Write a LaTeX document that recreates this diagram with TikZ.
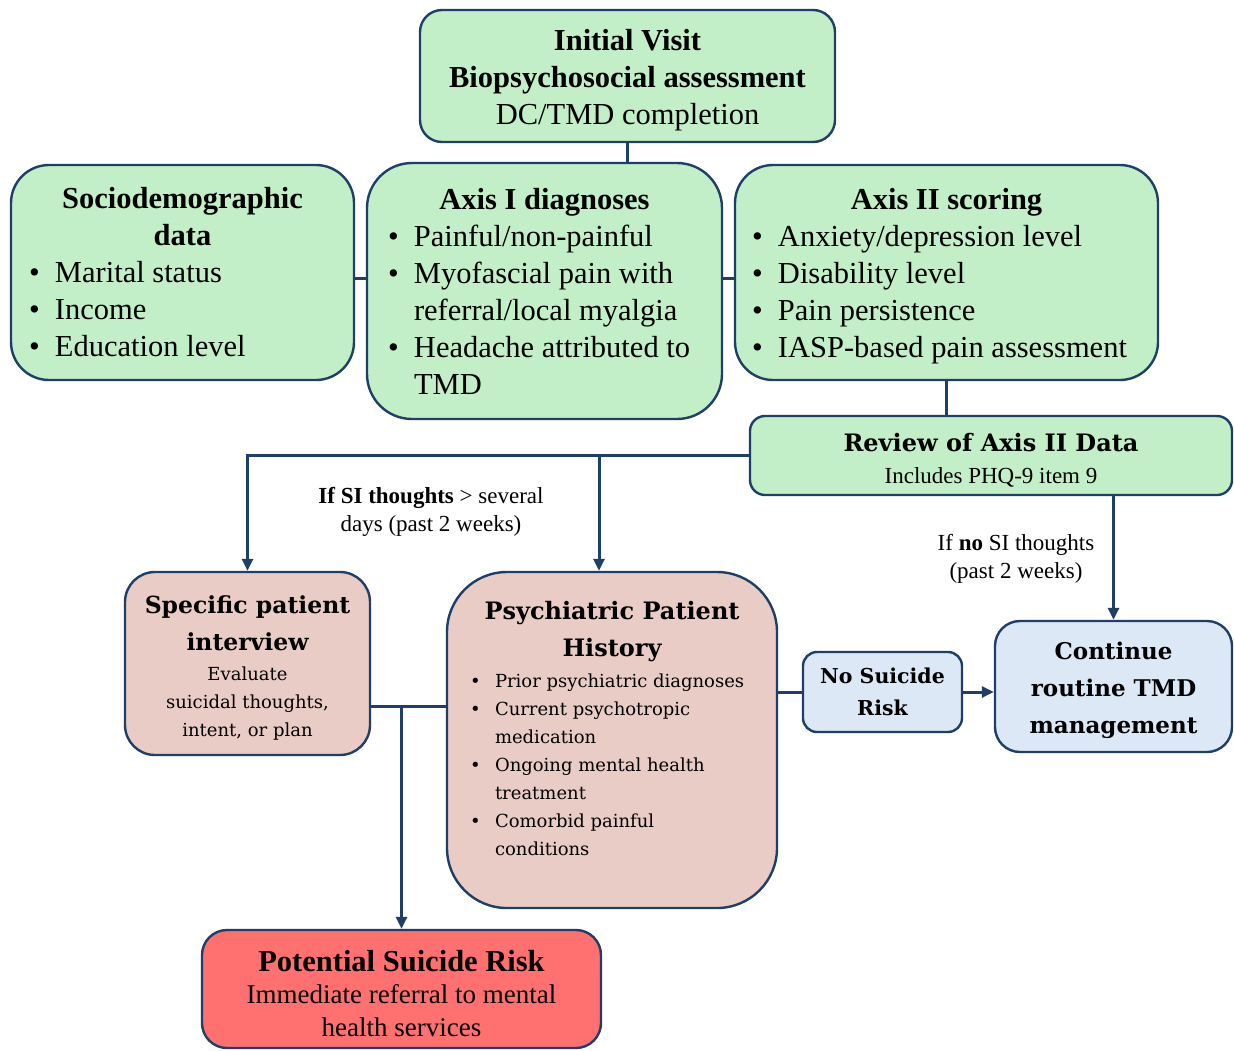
\documentclass[tikz,border=0pt]{standalone}
\usepackage{fontspec}
\setmainfont{Liberation Serif}
\newfontfamily\wideserif{DejaVu Serif}
\usetikzlibrary{arrows.meta}
\definecolor{navy}{HTML}{1F3F66}
\definecolor{mint}{HTML}{C3EFC8}
\definecolor{blush}{HTML}{EACCC6}
\definecolor{alarm}{HTML}{FF7070}
\definecolor{sky}{HTML}{DCE8F5}

\newcommand{\bigtext}{\fontsize{30.5}{37}\selectfont}
\newcommand{\smalltext}{\fontsize{23}{28}\selectfont}
\newcommand{\widetitle}{\wideserif\bfseries\fontsize{24}{37}\selectfont}
\newcommand{\widebody}{\wideserif\fontsize{18}{28}\selectfont}
\newcommand{\lift}[1]{\rule{0pt}{#1}}
\newcommand{\ctr}[1]{\noindent\makebox[\hsize][c]{#1}\par}
\newcommand{\bitem}[2][26pt]{\par\noindent\makebox[#1][l]{\textbullet}%
	\parbox[t]{\dimexpr\hsize-#1\relax}{\raggedright #2\par\xdef\itemdepth{\the\prevdepth}}\par\prevdepth=\itemdepth\relax}

\tikzset{box/.style={draw=navy,line width=2.4pt,inner ysep=0pt,inner xsep=0pt},
	mintbox/.style={box,fill=mint},
	listbox/.style={text width=#1,align=flush left},
	link/.style={draw=navy,line width=3pt}}

\begin{document}
\begin{tikzpicture}[x=1pt,y=-1pt,every node/.style={font=\bigtext},>={Triangle[length=12pt,width=11pt]}]
\useasboundingbox (0,0) rectangle (1234,1050);

% top row
\node[mintbox,align=center,minimum width=415pt,minimum height=132pt,rounded corners=22pt] (visit) at (627.5,76)
	{\lift{29pt}\textbf{Initial Visit}\\\textbf{Biopsychosocial assessment}\\DC/TMD completion};
\node[mintbox,listbox=307pt,minimum width=343pt,minimum height=215pt,rounded corners=38pt] (socio) at (182.5,272.5)
	{\ctr{\bfseries Sociodemographic}\ctr{\bfseries data}\bitem{Marital status}\bitem{Income}\bitem{Education level}};
\node[mintbox,listbox=313pt,minimum width=355pt,minimum height=256pt,rounded corners=45pt] (axisone) at (544.5,291)
	{\ctr{\bfseries Axis I diagnoses}\bitem{Painful/non-painful}\bitem{Myofascial pain with\\referral/local myalgia}\bitem{Headache attributed to\\TMD}};
\node[mintbox,listbox=389pt,minimum width=423pt,minimum height=215pt,rounded corners=38pt] (axistwo) at (946.5,272.5)
	{\ctr{\lift{29pt}\bfseries Axis II scoring}\bitem{Anxiety/depression level}\bitem{Disability level}\bitem{Pain persistence}\bitem{IASP-based pain assessment}};
\node[mintbox,text width=470pt,align=flush center,minimum width=482pt,minimum height=79pt,rounded corners=15pt] (review) at (991,455.5)
	{{\widetitle\lift{28pt}Review of Axis II Data\par}\vspace{4pt}{\smalltext Includes PHQ-9 item 9\par}};

% middle row
\node[box,fill=blush,text width=235pt,align=flush center,minimum width=245pt,minimum height=183pt,rounded corners=30pt] (interview) at (247.5,663.5)
	{{\widetitle\fontsize{23.5}{37}\selectfont\lift{26pt}Specific patient\\interview\par}\vspace{2pt}{\widebody Evaluate\\suicidal thoughts,\\intent, or plan\par}};
\node[box,fill=blush,listbox=284pt,minimum width=330pt,minimum height=336pt,rounded corners=60pt] (history) at (612,740)
	{{\widetitle\ctr{Psychiatric Patient}\ctr{History}}\vspace{3pt}
	{\widebody\bitem[25pt]{Prior psychiatric diagnoses}\bitem[25pt]{Current psychotropic\\medication}\bitem[25pt]{Ongoing mental health\\treatment}\bitem[25pt]{Comorbid painful\\conditions\rule[-23pt]{0pt}{23pt}}}};
\node[box,fill=sky,align=center,font={\wideserif\bfseries\fontsize{20.5}{32}\selectfont},minimum width=159pt,minimum height=80pt,rounded corners=14pt] (norisk) at (882.5,692)
	{No Suicide\\Risk};
\node[box,fill=sky,align=center,font={\wideserif\bfseries\fontsize{23}{37}\selectfont},minimum width=237pt,minimum height=131pt,rounded corners=25pt] (routine) at (1113.5,686.5)
	{\lift{25.5pt}Continue\\routine TMD\\management};

% bottom
\node[box,fill=alarm,text width=390pt,align=flush center,minimum width=399pt,minimum height=118pt,rounded corners=25pt] (risk) at (401.5,989)
	{{\bfseries\lift{30pt}Potential Suicide Risk\par}\vspace{-1pt}{\fontsize{27}{33}\selectfont Immediate referral to mental\\health services\par}};

% labels
\node[align=center,font=\smalltext] (yeslbl) at (431,512) {\textbf{If SI thoughts} > several\\days (past 2 weeks)};
\node[align=center,font=\smalltext] (nolbl) at (1016,559) {If \textbf{no} SI thoughts\\(past 2 weeks)};

% connectors
\coordinate (rowmid) at (0,278);
\coordinate (spimid) at (0,706);
\coordinate (psyfork) at (599,0);
\draw[link] (visit.south) -- (visit.south |- axisone.north);
\draw[link] (socio.east |- rowmid) -- (axisone.west |- rowmid);
\draw[link] (axisone.east |- rowmid) -- (axistwo.west |- rowmid);
\draw[link] (axistwo.south) -- (axistwo.south |- review.north);
\draw[link,->] (review.west) -| (interview.north);
\draw[link,->] (psyfork |- review.west) -- (psyfork |- history.north);
\draw[link,->] (routine.north |- review.south) -- (routine.north);
\draw[link] (interview.east |- spimid) -- (history.west |- spimid);
\draw[link,->] (risk.north |- spimid) -- (risk.north);
\draw[link] (history.east |- norisk.west) -- (norisk.west);
\draw[link,->] (norisk.east) -- (norisk.east -| routine.west);

\end{tikzpicture}
\end{document}
